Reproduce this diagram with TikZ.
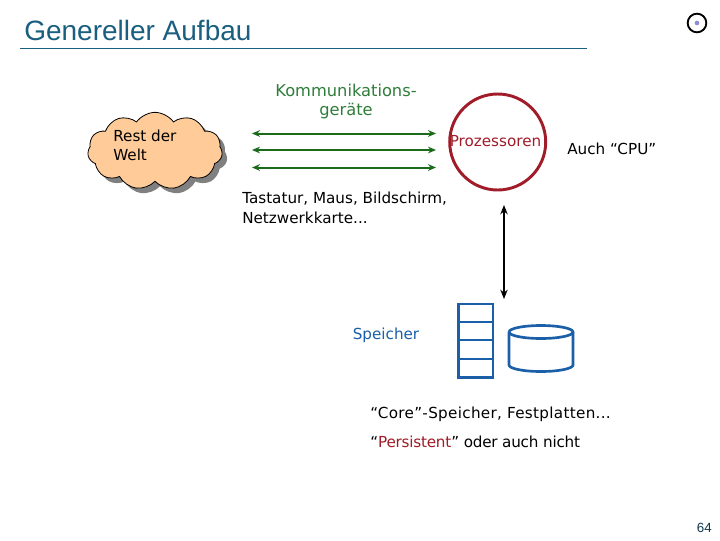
\documentclass[tikz,border=0pt]{standalone}
\usepackage{fontspec}
\setmainfont{DejaVu Sans}
\newfontfamily\arialf{Liberation Sans}
\usetikzlibrary{shapes.symbols,arrows.meta,shapes.geometric}
\definecolor{titleblue}{HTML}{1A5F80}
\definecolor{linkgreen}{HTML}{1B6B1B}
\definecolor{lightgreen}{HTML}{2F7D3A}
\definecolor{cpured}{HTML}{A01C28}
\definecolor{memblue}{HTML}{1A5FA8}
\definecolor{cloudfill}{HTML}{FFCC99}
\tikzset{
 lbl/.style={inner sep=0pt,font=\fontsize{11.4pt}{14.2pt}\selectfont,text=black},
 lblwide/.style={lbl,font=\fontsize{11.4pt}{14.2pt}\selectfont\addfontfeature{LetterSpace=2}},
 lblnarrow/.style={lbl,font=\fontsize{11.4pt}{14.2pt}\selectfont\addfontfeature{LetterSpace=-1.5}},
 link/.style={draw=linkgreen,line width=1.5pt,{Stealth[length=6pt,width=5pt]}-{Stealth[length=6pt,width=5pt]}},
 bus/.style={draw=black,line width=1.2pt,{Stealth[length=7pt,width=5.5pt]}-{Stealth[length=7pt,width=5.5pt]}},
 mem/.style={draw=memblue,line width=2pt},
 puff/.style={cloud,cloud puffs=11,cloud puff arc=110,aspect=1.75,minimum width=101pt,minimum height=58pt,inner sep=0pt}
}
\begin{document}
\begin{tikzpicture}[x=0.75pt,y=-0.75pt]
\useasboundingbox (0,0) rectangle (720,540);
\fill[white] (0,0) rectangle (720,540);
% title
\node[anchor=base west,inner sep=0pt,text=titleblue,font=\arialf\fontsize{21pt}{24pt}\selectfont] (title) at (24,40) {Genereller Aufbau};
\coordinate (ruleL) at (20,48); \coordinate (ruleR) at (587,48);
\draw[titleblue,line width=0.75pt] (ruleL) -- (ruleR);
% logo
\node[circle,draw=black,line width=1.4pt,minimum size=14pt,inner sep=0pt] (logo) at (697,23) {};
\node[circle,fill=black!35!blue!45!white,minimum size=3.5pt,inner sep=0pt] (logodot) at (697,23) {};
% cloud
\node[puff,fill=black!50] (cloudshadow) at (160,156) {};
\node[puff,draw=black,line width=0.6pt,fill=cloudfill] (cloudm) at (155,151) {};
\node[lbl,anchor=base west] (rest) at (113,141) {Rest der};
\node[lbl,anchor=base west] (welt) at (113,160) {Welt};
% devices
\node[lbl,align=center,text=lightgreen,font=\fontsize{12.2pt}{14.25pt}\selectfont] (komm) at (346,101.5) {Kommunikations-\\geräte};
\coordinate (la) at (252,133.5); \coordinate (ra) at (436,133.5);
\coordinate (lb) at (252,150); \coordinate (rb) at (436,150);
\coordinate (lc) at (252,167.5); \coordinate (rc) at (436,167.5);
\draw[link] (la) -- (ra);
\draw[link] (lb) -- (rb);
\draw[link] (lc) -- (rc);
% processor
\node[circle,draw=cpured,line width=2.2pt,minimum size=72pt,inner sep=0pt] (cpu) at (497.7,142) {};
\node[lbl,text=cpured] (proz) at (495.5,141) {Prozessoren};
\node[lbl,anchor=base west] (auch) at (567,154) {Auch “CPU”};
\node[lbl,anchor=base west] (tast) at (242,203) {Tastatur, Maus, Bildschirm,};
\node[lbl,anchor=base west] (netz) at (242,223) {Netzwerkkarte...};
% memory
\coordinate (bt) at (504,205); \coordinate (bb) at (504,299);
\draw[bus] (bt) -- (bb);
\node[lbl,text=memblue,anchor=base] (spei) at (386,339) {Speicher};
\node[rectangle,mem,minimum width=26pt,minimum height=55pt,inner sep=0pt] (stack) at (475.7,340.5) {};
\draw[mem] (458,322) -- (493.5,322) (458,340) -- (493.5,340) (458,359) -- (493.5,359);
\draw[mem] (509,332) arc[start angle=180,end angle=540,x radius=32,y radius=-6.5];
\draw[mem] (509,332) -- (509,365) arc[start angle=180,end angle=360,x radius=32,y radius=-6.5] -- (573,332);
\node[lblwide,anchor=base west] (core) at (370,418) {“Core”-Speicher, Festplatten...};
\node[lblnarrow,anchor=base west] (pers) at (370,447) {“\textcolor{cpured}{Persistent}” oder auch nicht};
\node[anchor=base east,inner sep=0pt,text=titleblue!60!black,font=\arialf\fontsize{10pt}{12pt}\selectfont] (page) at (712,532) {64};
\end{tikzpicture}
\end{document}
